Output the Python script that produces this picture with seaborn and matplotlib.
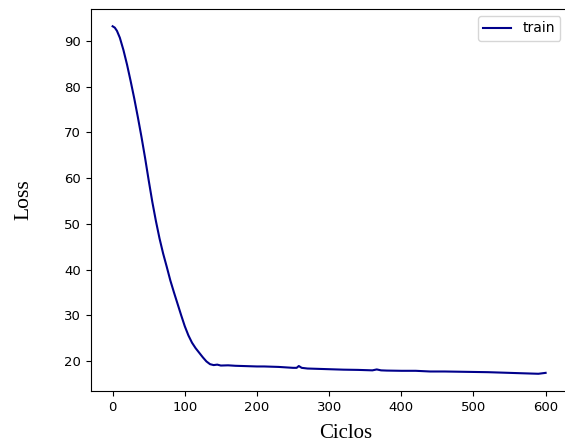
import pandas as pd
import seaborn as sns
import matplotlib.pyplot as plt

# Loss values
epochs = [0, 3, 6, 10, 15, 20, 25, 30, 35, 40, 45, 50, 55, 60, 65, 70, 75, 80, 85,
          90, 95, 100, 105, 110, 115, 120, 125, 130, 135, 140, 145, 150, 160,
          170, 180, 190, 200, 210, 220, 230, 240, 250, 255, 258, 262, 270, 280,
          300, 320, 340, 360, 366, 372, 380, 400, 420, 440, 460, 480, 500, 520,
          540, 560, 580, 590, 600]
loss = [93.2, 92.9, 92.2, 90.7, 88.0, 84.8, 81.2, 77.4, 73.3, 69.0, 64.4, 59.5,
        54.8, 50.6, 46.8, 43.5, 40.6, 37.6, 35.0, 32.5, 30.0, 27.6, 25.6, 24.0,
        22.8, 21.8, 20.8, 19.9, 19.3, 19.1, 19.2, 19.0, 19.05, 18.95, 18.9,
        18.85, 18.8, 18.8, 18.75, 18.7, 18.6, 18.5, 18.5, 18.9, 18.5, 18.35,
        18.3, 18.2, 18.1, 18.05, 17.95, 18.15, 17.95, 17.9, 17.85, 17.85, 17.7,
        17.7, 17.65, 17.6, 17.55, 17.45, 17.35, 17.25, 17.2, 17.4]

df = pd.DataFrame({'Ciclos': epochs, 'Loss': loss})

fig = plt.figure(figsize=(5.65, 4.45), dpi=100)
ax = fig.add_axes([0.161, 0.121, 0.843, 0.859])

sns.lineplot(data=df, x='Ciclos', y='Loss', color='darkblue', linewidth=1.5,
             label='train', ax=ax)

ax.set_xticks([0, 100, 200, 300, 400, 500, 600])
ax.tick_params(labelsize=9.5)
ax.set_xlabel('Ciclos', fontfamily='Liberation Serif', fontsize=15)
ax.set_ylabel('Loss', fontfamily='Liberation Serif', fontsize=15.5, labelpad=22)
ax.xaxis.set_label_coords(0.534, -0.085)
ax.legend(loc='upper right', fontsize=10)

plt.savefig('out.png', dpi=100)
